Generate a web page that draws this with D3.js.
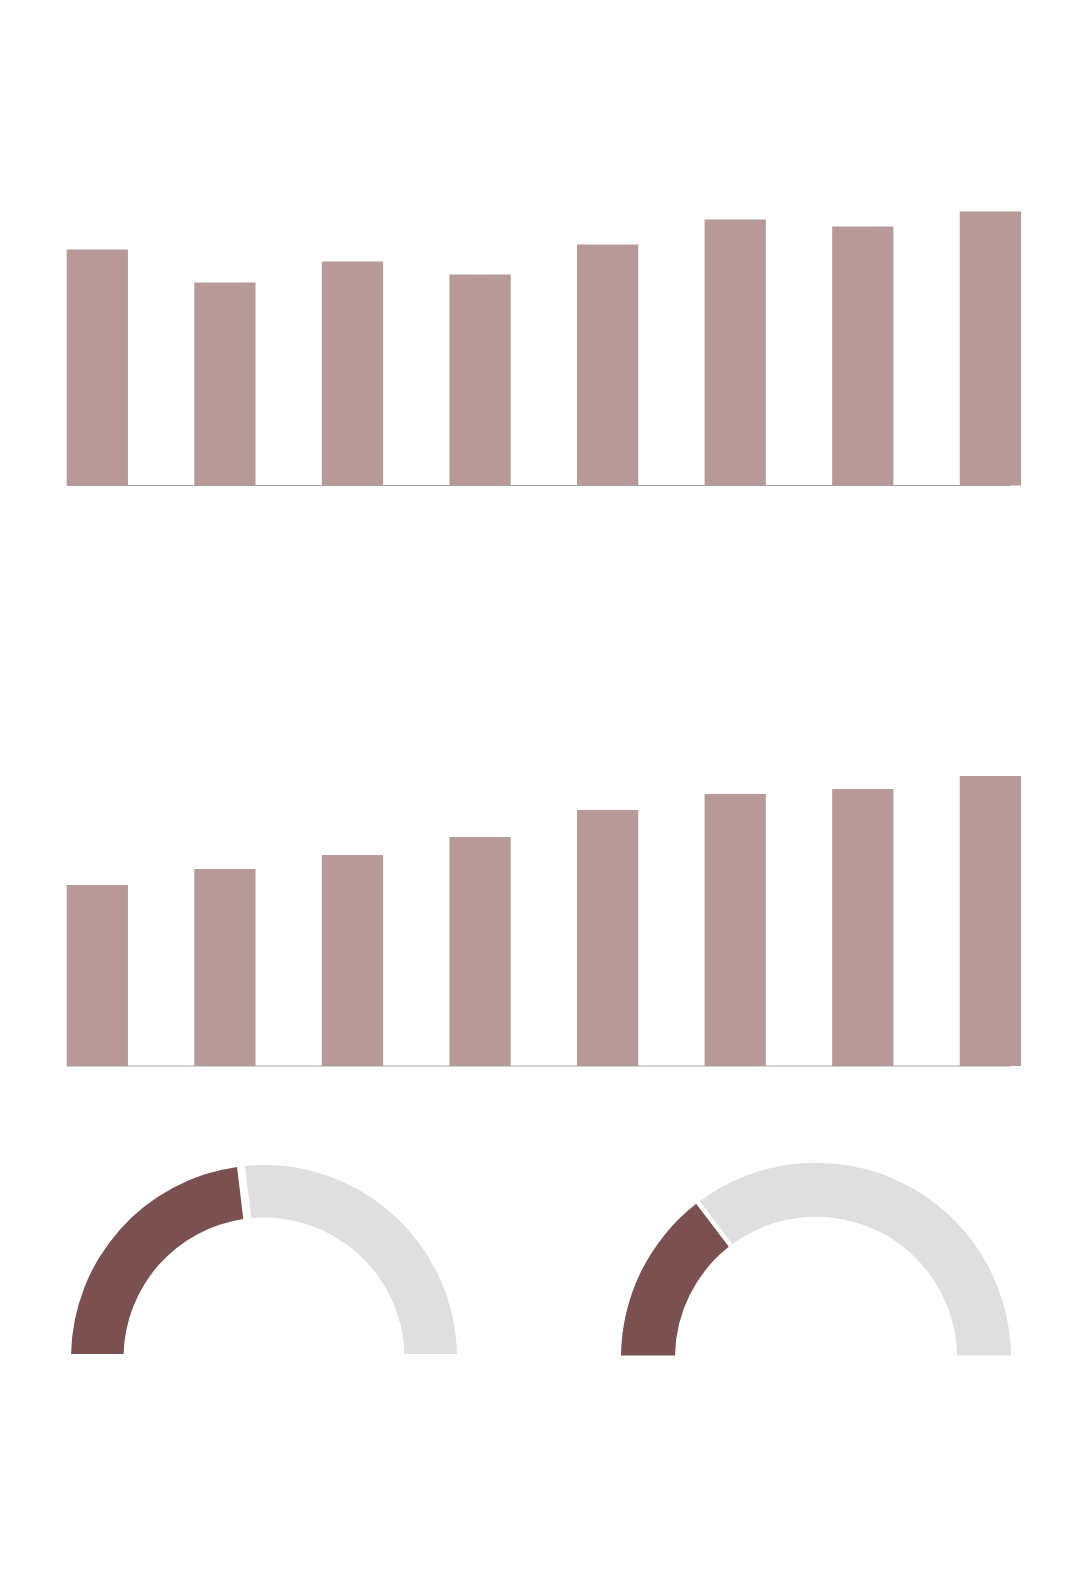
<!DOCTYPE html>
<html>
<head>
<meta charset="utf-8">
<script src="https://cdn.jsdelivr.net/npm/d3@7"></script>
<style>
  html, body { margin: 0; padding: 0; background: #ffffff; }
  svg { display: block; }
</style>
</head>
<body>
<div id="chart"></div>
<script>
// ---- data ----
const categories = ["1", "2", "3", "4", "5", "6", "7", "8"];
const seriesTop = [236, 203, 224, 211, 241, 266, 259, 274];
const seriesBottom = [181, 197, 211, 229, 256, 272, 277, 290];
const gaugeValues = [46.1, 29.0];   // percent of the half circle
const gaugeMax = 100;

// ---- styles ----
const W = 1092, H = 1572;
const barColor = "#b79997";
const axisColor = "#a3a3a3";
const gaugeFill = "#7a5150";
const gaugeTrack = "#dfdfdf";

const svg = d3.select("#chart").append("svg")
  .attr("width", W).attr("height", H);

const x = d3.scaleBand()
  .domain(categories)
  .range([66.7, 1021])
  .paddingInner(0.52)
  .paddingOuter(0);

function barChart(values, baseY, axisEnd) {
  const y = d3.scaleLinear().domain([0, 300]).range([baseY, baseY - 300]);
  const g = svg.append("g");
  g.selectAll("rect")
    .data(values)
    .join("rect")
    .attr("x", (d, i) => x(categories[i]))
    .attr("y", d => y(d))
    .attr("width", x.bandwidth())
    .attr("height", d => y(0) - y(d))
    .attr("fill", barColor);
  const axis = d3.axisBottom(x.copy().range([66.7, axisEnd])).tickSize(0).tickFormat("");
  const ag = g.append("g").attr("transform", `translate(0,${baseY - 0.5})`).call(axis);
  ag.select(".domain").attr("stroke", axisColor).attr("stroke-width", 1.2);
}

barChart(seriesTop, 485.5, 1010);
barChart(seriesBottom, 1066, 1010);

// ---- gauges ----
const gauges = [
  { cx: 264, cy: 1358, outer: 193, inner: 140.5, gap: 8 },
  { cx: 816, cy: 1357.7, outer: 195, inner: 141, gap: 4.5 }
];

gauges.forEach((gd, i) => {
  const v = gaugeValues[i];
  const pie = d3.pie().sort(null)
    .startAngle(-Math.PI / 2).endAngle(Math.PI / 2)
    .padAngle(gd.gap / 200);
  const arc = d3.arc().innerRadius(gd.inner).outerRadius(gd.outer).padRadius(200);
  const arcs = pie([v, gaugeMax - v]);
  svg.append("g")
    .attr("transform", `translate(${gd.cx},${gd.cy})`)
    .selectAll("path")
    .data(arcs)
    .join("path")
    .attr("d", arc)
    .attr("fill", (d, j) => j === 0 ? gaugeFill : gaugeTrack);
});
</script>
</body>
</html>
